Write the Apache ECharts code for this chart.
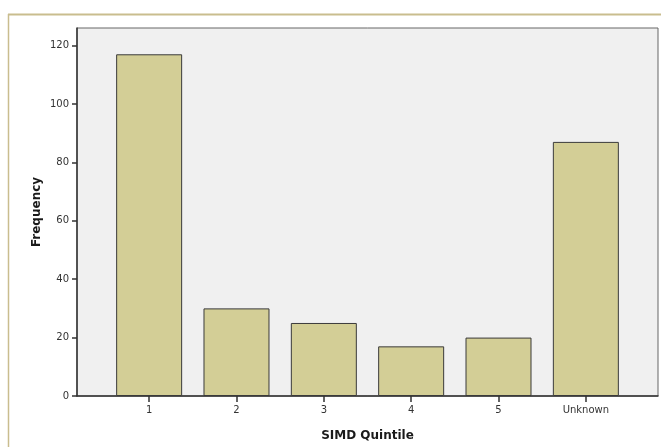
<!DOCTYPE html>
<html><head><meta charset="utf-8">
<script src="https://cdn.jsdelivr.net/npm/echarts@6/dist/echarts.min.js"></script>
<style>html,body{margin:0;padding:0;background:#fff;}#c{width:661px;height:447px;}</style>
</head><body><div id="c"></div>
<script>
const categories = ['1', '2', '3', '4', '5', 'Unknown'];
const frequency = [117, 30, 25, 17, 20, 87];
const yTicks = [0, 20, 40, 60, 80, 100, 120];

const chart = echarts.init(document.getElementById('c'), null, {renderer: 'canvas'});
const xs = categories.map((c, i) => i);
chart.setOption({
  animation: false,
  graphic: [
    {type: 'line', shape: {x1: 8, y1: 14.5, x2: 661, y2: 14.5}, style: {stroke: '#c9bd8e', lineWidth: 2}, z: -10},
    {type: 'line', shape: {x1: 8.5, y1: 14, x2: 8.5, y2: 447}, style: {stroke: '#c9bd8e', lineWidth: 1.5}, z: -10}
  ],
  grid: {left: 77, right: 3, top: 28, bottom: 48, show: true, backgroundColor: '#f0f0f0', borderColor: '#666', borderWidth: 1},
  xAxis: {
    type: 'value', min: -0.826, max: 5.826,
    name: 'SIMD Quintile', nameLocation: 'middle', nameGap: 34,
    nameTextStyle: {fontFamily: 'DejaVu Sans', fontWeight: 'bold', fontSize: 12, color: '#1a1a1a'},
    axisLine: {show: true, onZero: false, lineStyle: {color: '#333', width: 1.5}},
    axisTick: {show: true, inside: false, length: 6, customValues: xs, lineStyle: {color: '#333', width: 1.5}},
    axisLabel: {customValues: xs, formatter: v => categories[Math.round(v)], fontFamily: 'DejaVu Sans', fontSize: 10, color: '#333', margin: 9},
    splitLine: {show: false}
  },
  yAxis: {
    type: 'value', min: 0, max: 126,
    name: 'Frequency', nameLocation: 'middle', nameGap: 34, nameMoveOverlap: false,
    nameTextStyle: {fontFamily: 'DejaVu Sans', fontWeight: 'bold', fontSize: 12, color: '#1a1a1a'},
    axisLine: {show: true, onZero: false, lineStyle: {color: '#333', width: 1.5}},
    axisTick: {show: true, inside: false, length: 5, customValues: yTicks, lineStyle: {color: '#333', width: 1.5}},
    axisLabel: {customValues: yTicks, fontFamily: 'DejaVu Sans', fontSize: 10, color: '#333', margin: 8},
    splitLine: {show: false}
  },
  series: [{
    type: 'bar',
    data: frequency.map((v, i) => [i, v]),
    barWidth: 66,
    itemStyle: {color: '#d3ce96', borderColor: '#3a3a3a', borderWidth: 1}
  }]
});
</script></body></html>
